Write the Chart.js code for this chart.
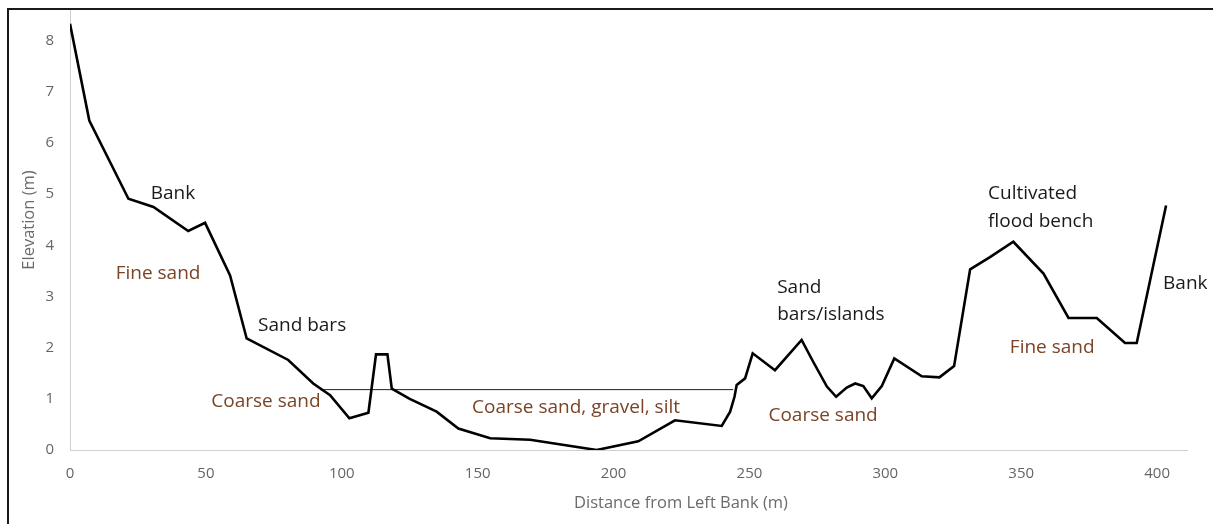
<!DOCTYPE html>
<html>
<head>
<meta charset="utf-8">
<script src="https://cdn.jsdelivr.net/npm/chart.js@4.4.1/dist/chart.umd.min.js"></script>
<style>
  html, body { margin: 0; padding: 0; background: #fff; }
  #wrap { position: relative; width: 1213px; height: 524px; }
  #frame { position: absolute; left: 7px; top: 8px; width: 1300px; height: 600px;
           border-top: 2px solid #1a1a1a; border-left: 2px solid #1a1a1a; pointer-events: none; }
  canvas { position: absolute; left: 0; top: 0; }
</style>
</head>
<body>
<div id="wrap">
  <canvas id="c" width="1213" height="524"></canvas>
  <div id="frame"></div>
</div>
<script>
// Cross-section profile: distance from left bank (m) and elevation (m)
const distance = [0, 7.1, 21.5, 30.7, 43.5, 49.7, 58.9, 65, 80.3, 89.5, 95.7, 102.8, 109.8, 112.6, 116.8, 118.4,
  125, 134.9, 142.9, 154.6, 169.3, 193.8, 209.1, 222.6, 239.8, 242.9, 244.5, 245.3, 248.4, 251.2, 259.4,
  269.2, 273.5, 278.5, 281.9, 285.8, 288.9, 291.9, 295, 298.7, 303.3, 313.4, 319.9, 325.3, 331.2, 338.5,
  347.1, 358.2, 367.4, 377.8, 388.2, 392.5, 403.3];
const elevation = [8.33, 6.44, 4.91, 4.75, 4.28, 4.44, 3.41, 2.18, 1.76, 1.30, 1.07, 0.62, 0.73, 1.87, 1.87, 1.20,
  1.00, 0.75, 0.42, 0.23, 0.20, 0.00, 0.17, 0.58, 0.47, 0.75, 1.04, 1.27, 1.40, 1.89, 1.56,
  2.15, 1.72, 1.24, 1.04, 1.22, 1.30, 1.25, 1.01, 1.25, 1.79, 1.44, 1.42, 1.64, 3.53, 3.77,
  4.07, 3.45, 2.58, 2.58, 2.09, 2.09, 4.78];
// Water level line
const waterDistance = [92, 244];
const waterLevel = [1.18, 1.18];
// Axis ticks
const xTicks = [0, 50, 100, 150, 200, 250, 300, 350, 400];
const yTicks = [0, 1, 2, 3, 4, 5, 6, 7, 8];
// Annotations (text, data x, data y, kind, alignment)
const labelTexts = ["Bank", "Fine sand", "Sand bars", "Coarse sand", "Coarse sand, gravel, silt",
  "Sand", "bars/islands", "Coarse sand", "Cultivated", "flood bench", "Fine sand", "Bank"];
const labelX = [37.9, 32.4, 85.4, 72.1, 186.2, 260.2, 260.2, 277.1, 337.8, 337.8, 361.4, 402.2];
const labelY = [5.01, 3.45, 2.44, 0.94, 0.82, 3.18, 2.65, 0.68, 5.01, 4.47, 2.01, 3.26];
const labelKind = ["feature", "sediment", "feature", "sediment", "sediment",
  "feature", "feature", "sediment", "feature", "feature", "sediment", "feature"];
const labelAlign = ["center", "center", "center", "center", "center",
  "left", "left", "center", "left", "left", "center", "left"];

const FONT = "'Open Sans', 'Noto Sans', sans-serif";
const kindColor = { feature: "#1a1a1a", sediment: "#7a4426" };

const annotPlugin = {
  id: "annot",
  afterDatasetsDraw(chart) {
    const { ctx, scales } = chart;
    ctx.save();
    ctx.font = "19px " + FONT;
    ctx.textBaseline = "middle";
    labelTexts.forEach((t, i) => {
      ctx.fillStyle = kindColor[labelKind[i]];
      ctx.textAlign = labelAlign[i];
      ctx.fillText(t, scales.x.getPixelForValue(labelX[i]), scales.y.getPixelForValue(labelY[i]));
    });
    // axis titles
    ctx.fillStyle = "#6b6b6b";
    ctx.font = "16.5px " + FONT;
    ctx.textAlign = "center";
    ctx.fillText("Distance from Left Bank (m)", 681, 503);
    ctx.translate(29, 220);
    ctx.rotate(-Math.PI / 2);
    ctx.fillText("Elevation (m)", 0, 0);
    ctx.restore();
  }
};

new Chart(document.getElementById("c"), {
  type: "scatter",
  data: {
    datasets: [
      {
        data: distance.map((d, i) => ({ x: d, y: elevation[i] })),
        showLine: true, borderColor: "#000", borderWidth: 2.6, pointRadius: 0, tension: 0
      },
      {
        data: waterDistance.map((d, i) => ({ x: d, y: waterLevel[i] })),
        showLine: true, borderColor: "#222", borderWidth: 1, pointRadius: 0
      }
    ]
  },
  options: {
    responsive: false, animation: false,
    layout: { padding: { left: 0, right: 26, top: 10, bottom: 0 } },
    plugins: { legend: { display: false }, tooltip: { enabled: false } },
    scales: {
      x: {
        type: "linear", min: 0, max: 411,
        afterBuildTicks: (s) => { s.ticks = xTicks.map(v => ({ value: v })); },
        afterFit: (s) => { s.height = 74; s.paddingLeft = 0; s.paddingRight = 0; },
        grid: { display: false, drawTicks: false },
        border: { display: true, color: "#d0d0d0", width: 1 },
        ticks: { color: "#666", font: { family: FONT, size: 15 }, padding: 15, maxRotation: 0 }
      },
      y: {
        type: "linear", min: 0, max: 8.6,
        afterBuildTicks: (s) => { s.ticks = yTicks.map(v => ({ value: v })); },
        afterFit: (s) => { s.width = 70; s.paddingTop = 0; s.paddingBottom = 0; },
        grid: { display: false, drawTicks: false },
        border: { display: true, color: "#d0d0d0", width: 1 },
        ticks: { color: "#666", font: { family: FONT, size: 15 }, padding: 16 }
      }
    }
  },
  plugins: [annotPlugin]
});
</script>
</body>
</html>
